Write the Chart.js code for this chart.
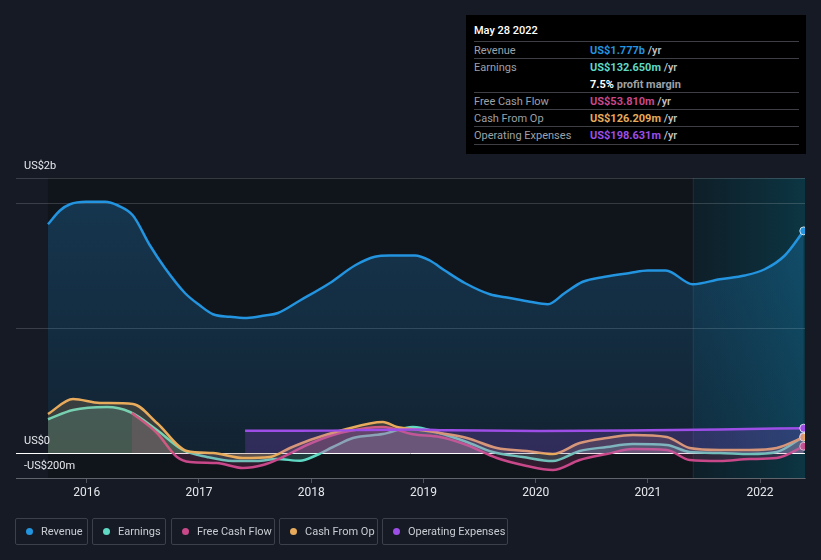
<!DOCTYPE html>
<html>
<head>
<meta charset="utf-8">
<script src="https://cdn.jsdelivr.net/npm/chart.js@4"></script>
<style>
    body { margin: 0; background: #151a24; font-family: Roboto, sans-serif; }
    #wrap { position: relative; width: 821px; height: 560px; overflow: hidden; }
    #chart { position: absolute; left: 0; top: 0; }
    .tip { position: absolute; left: 466px; top: 15px; width: 340px; height: 139px; background: #000; }
    .tip .date { position: absolute; left: 8px; top: 9px; color: #fff; font-size: 11px; font-weight: 500; }
    .tip .row { position: absolute; left: 8px; width: 325px; height: 17px; border-top: 1px solid #3d3f44; font-size: 11px; }
    .tip .lbl { position: absolute; left: 0; top: 2px; color: #9da1a8; }
    .tip .val { position: absolute; left: 116px; top: 2px; font-weight: 700; }
    .tip .yr { color: #c8c8c8; font-weight: 500; }
    .legend-item { position: absolute; top: 518px; height: 27px; border: 1px solid #3b404a; border-radius: 2px;
        box-sizing: border-box; color: #c9ccd2; font-size: 11px; line-height: 25px; padding-left: 25px;
        white-space: nowrap; }
    .legend-item i { position: absolute; left: 10px; top: 9px; width: 7px; height: 7px; border-radius: 50%; }
</style>
</head>
<body>
<div id="wrap">
    <canvas id="chart" width="821" height="560"></canvas>
    <div class="tip">
        <div class="date">May 28 2022</div>
        <div class="row" style="top:26px"><span class="lbl">Revenue</span><span class="val" style="color:#2394df">US$1.777b <span class="yr">/yr</span></span></div>
        <div class="row" style="top:43px;height:34px"><span class="lbl">Earnings</span><span class="val" style="color:#5fd9c4">US$132.650m <span class="yr">/yr</span></span>
            <span class="val" style="top:19px;color:#fff">7.5% <span style="color:#9da1a8">profit margin</span></span></div>
        <div class="row" style="top:77px"><span class="lbl">Free Cash Flow</span><span class="val" style="color:#c8488a">US$53.810m <span class="yr">/yr</span></span></div>
        <div class="row" style="top:94px"><span class="lbl">Cash From Op</span><span class="val" style="color:#e8ab5c">US$126.209m <span class="yr">/yr</span></span></div>
        <div class="row" style="top:111px;border-bottom:1px solid #3d3f44"><span class="lbl">Operating Expenses</span><span class="val" style="color:#9d4ee6">US$198.631m <span class="yr">/yr</span></span></div>
    </div>
    <div class="legend-item" style="left:15px;width:73px"><i style="background:#2394df"></i>Revenue</div>
    <div class="legend-item" style="left:92px;width:74px"><i style="background:#5fd9c4"></i>Earnings</div>
    <div class="legend-item" style="left:171px;width:104px"><i style="background:#c8488a"></i>Free Cash Flow</div>
    <div class="legend-item" style="left:279px;width:99px"><i style="background:#e8ab5c"></i>Cash From Op</div>
    <div class="legend-item" style="left:382px;width:126px"><i style="background:#9d4ee6"></i>Operating Expenses</div>
</div>
<script>
// DATA (years as decimals, values in US$ millions)
const revYears = [2015.655, 2015.762, 2015.851, 2015.994, 2016.163, 2016.279, 2016.412, 2016.564, 2016.697, 2016.875,
    2017.009, 2017.125, 2017.276, 2017.427, 2017.588, 2017.704, 2017.900, 2018.167, 2018.389, 2018.567, 2018.701,
    2018.924, 2019.057, 2019.191, 2019.369, 2019.592, 2019.770, 2019.948, 2020.108, 2020.260, 2020.420, 2020.616,
    2020.839, 2020.999, 2021.160, 2021.400, 2021.641, 2021.863, 2022.041, 2022.220, 2022.389];
const revenue = [1830, 1940, 1990, 2010, 2010, 1980, 1900, 1660, 1480, 1280,
    1180, 1110, 1090, 1080, 1100, 1120, 1220, 1360, 1500, 1570, 1580,
    1580, 1540, 1460, 1360, 1270, 1240, 1210, 1190, 1280, 1370, 1410,
    1440, 1460, 1460, 1350, 1390, 1420, 1470, 1580, 1777];

const earnYears = [2015.655, 2015.878, 2016.181, 2016.386, 2016.626, 2016.858, 2017.071, 2017.303, 2017.517, 2017.695,
    2017.900, 2018.051, 2018.194, 2018.372, 2018.639, 2018.906, 2019.146, 2019.387, 2019.618, 2019.885,
    2020.152, 2020.393, 2020.633, 2020.865, 2021.168, 2021.373, 2021.641, 2021.908, 2022.148, 2022.389];
const earnings = [270, 344, 368, 328, 184, 24, -32, -64, -64, -48,
    -62, -16, 48, 120, 152, 208, 160, 88, 8, -32,
    -64, 16, 48, 72, 64, 8, 0, -8, 8, 132.65];

const cfoYears = [2015.655, 2015.878, 2016.118, 2016.412, 2016.626, 2016.893, 2017.125, 2017.392, 2017.633, 2017.811,
    2017.989, 2018.283, 2018.639, 2018.764, 2018.969, 2019.146, 2019.387, 2019.654, 2019.921, 2020.152,
    2020.393, 2020.633, 2020.865, 2021.168, 2021.373, 2021.641, 2021.908, 2022.148, 2022.389];
const cashFromOp = [312, 432, 400, 392, 240, 16, 0, -40, -32, 40,
    104, 184, 248, 208, 184, 160, 120, 40, 16, -8,
    80, 120, 144, 128, 40, 24, 24, 40, 126.209];

const fcfYears = [2016.403, 2016.626, 2016.804, 2016.920, 2017.160, 2017.392, 2017.570, 2017.748, 2017.962, 2018.194,
    2018.497, 2018.639, 2018.906, 2019.146, 2019.387, 2019.654, 2019.921, 2020.152, 2020.393, 2020.633,
    2020.865, 2021.168, 2021.373, 2021.641, 2021.908, 2022.148, 2022.389];
const freeCashFlow = [320, 160, -32, -72, -80, -120, -96, -32, 64, 144,
    200, 208, 150, 128, 64, -40, -104, -136, -56, -8,
    32, 24, -56, -64, -48, -40, 53.81];

const opexYears = [2017.411, 2017.900, 2018.906, 2019.236, 2020.037, 2021.016, 2021.641, 2022.389];
const opex = [178, 178, 188, 182, 176, 182, 188, 198.631];

const yearTicks = [2016, 2017, 2018, 2019, 2020, 2021, 2022];
const xMin = 2015.37;
const xMax = 2022.40;
const highlightStart = 2021.40;
const yMin = -200;
const yMax = 2200;

const colors = {
    revenue: '#2394df',
    earnings: '#5fd9c4',
    fcf: '#c8488a',
    cfo: '#e8ab5c',
    opex: '#9d4ee6'
};

function toPoints(xs, ys) {
    return xs.map((x, i) => ({ x: x, y: ys[i] }));
}

function hexA(hex, a) {
    const n = parseInt(hex.slice(1), 16);
    return `rgba(${(n >> 16) & 255}, ${(n >> 8) & 255}, ${n & 255}, ${a})`;
}

function lineSet(label, xs, ys, color, fillAlpha) {
    const last = ys.length - 1;
    return {
        label: label,
        data: toPoints(xs, ys),
        borderColor: color,
        backgroundColor: hexA(color, fillAlpha),
        borderWidth: 2.5,
        fill: 'origin',
        cubicInterpolationMode: 'monotone',
        pointRadius: ys.map((v, i) => i === last ? 4 : 0),
        pointBackgroundColor: color,
        pointBorderColor: 'rgba(255,255,255,0.75)',
        pointBorderWidth: 1
    };
}

// PLOT BACKGROUND + LABELS
const bgPlugin = {
    id: 'bg',
    beforeDraw(chart) {
        const { ctx, chartArea: a, scales: { x } } = chart;
        const x0 = x.getPixelForValue(revYears[0]);
        ctx.save();
        ctx.fillStyle = '#10141b';
        ctx.fillRect(x0, a.top, a.right - x0, a.bottom - a.top);
        const h0 = x.getPixelForValue(highlightStart);
        const g = ctx.createLinearGradient(h0, 0, a.right, 0);
        g.addColorStop(0, 'rgba(0, 110, 140, 0.12)');
        g.addColorStop(1, 'rgba(0, 140, 170, 0.28)');
        ctx.fillStyle = g;
        ctx.fillRect(h0, a.top, a.right - h0, a.bottom - a.top);
        ctx.fillStyle = 'rgba(255,255,255,0.07)';
        ctx.fillRect(h0, a.top, 1, a.bottom - a.top);
        ctx.restore();
    },
    afterDraw(chart) {
        const { ctx, scales: { y } } = chart;
        ctx.save();
        ctx.font = '11px Roboto, sans-serif';
        ctx.fillStyle = '#e6e8ec';
        ctx.textBaseline = 'middle';
        ctx.fillText('US$2b', 24, y.getPixelForValue(yMax) - 12);
        ctx.fillText('US$0', 24, y.getPixelForValue(0) - 12);
        ctx.fillText('-US$200m', 24, y.getPixelForValue(0) + 13);
        ctx.restore();
    }
};

// CHART SETUP
const chart = new Chart(
    document.getElementById('chart'),
    {
        type: 'line',
        data: {
            datasets: [
                lineSet('Operating Expenses', opexYears, opex, colors.opex, 0.22),
                lineSet('Cash From Op', cfoYears, cashFromOp, colors.cfo, 0.18),
                lineSet('Free Cash Flow', fcfYears, freeCashFlow, colors.fcf, 0.18),
                lineSet('Earnings', earnYears, earnings, colors.earnings, 0.2),
                Object.assign(lineSet('Revenue', revYears, revenue, colors.revenue, 0.2), {
                    backgroundColor: function (context) {
                        const a = context.chart.chartArea;
                        if (!a) return hexA(colors.revenue, 0.2);
                        const g = context.chart.ctx.createLinearGradient(0, a.top, 0, a.bottom);
                        g.addColorStop(0, hexA(colors.revenue, 0.28));
                        g.addColorStop(1, hexA(colors.revenue, 0.1));
                        return g;
                    }
                })
            ]
        },
        options: {
            responsive: false,
            animation: false,
            layout: { padding: { left: 16, right: 16, top: 178, bottom: 0 } },
            scales: {
                x: {
                    type: 'linear',
                    min: xMin,
                    max: xMax,
                    afterBuildTicks: function (scale) {
                        scale.ticks = yearTicks.map(v => ({ value: v }));
                    },
                    afterFit: function (scale) { scale.height = 82; },
                    ticks: {
                        callback: function (value) { return String(value); },
                        color: '#e6e8ec',
                        font: { family: 'Roboto', size: 12 },
                        padding: 3,
                        maxRotation: 0
                    },
                    grid: {
                        drawOnChartArea: false,
                        drawTicks: true,
                        tickLength: 5,
                        color: 'rgba(255,255,255,0.25)'
                    },
                    border: { display: true, color: 'rgba(255,255,255,0.2)' }
                },
                y: {
                    min: yMin,
                    max: yMax,
                    afterBuildTicks: function (scale) {
                        scale.ticks = [yMin, 0, 1000, 2000, yMax].map(v => ({ value: v }));
                    },
                    afterFit: function (scale) { scale.width = 0; },
                    ticks: { display: false },
                    grid: {
                        drawTicks: false,
                        color: function (ctx) {
                            return ctx.tick && ctx.tick.value === 0 ? '#ffffff' : 'rgba(255,255,255,0.16)';
                        }
                    },
                    border: { display: false }
                }
            },
            plugins: {
                legend: { display: false },
                tooltip: { enabled: false }
            }
        },
        plugins: [bgPlugin]
    }
);
</script>
</body>
</html>
